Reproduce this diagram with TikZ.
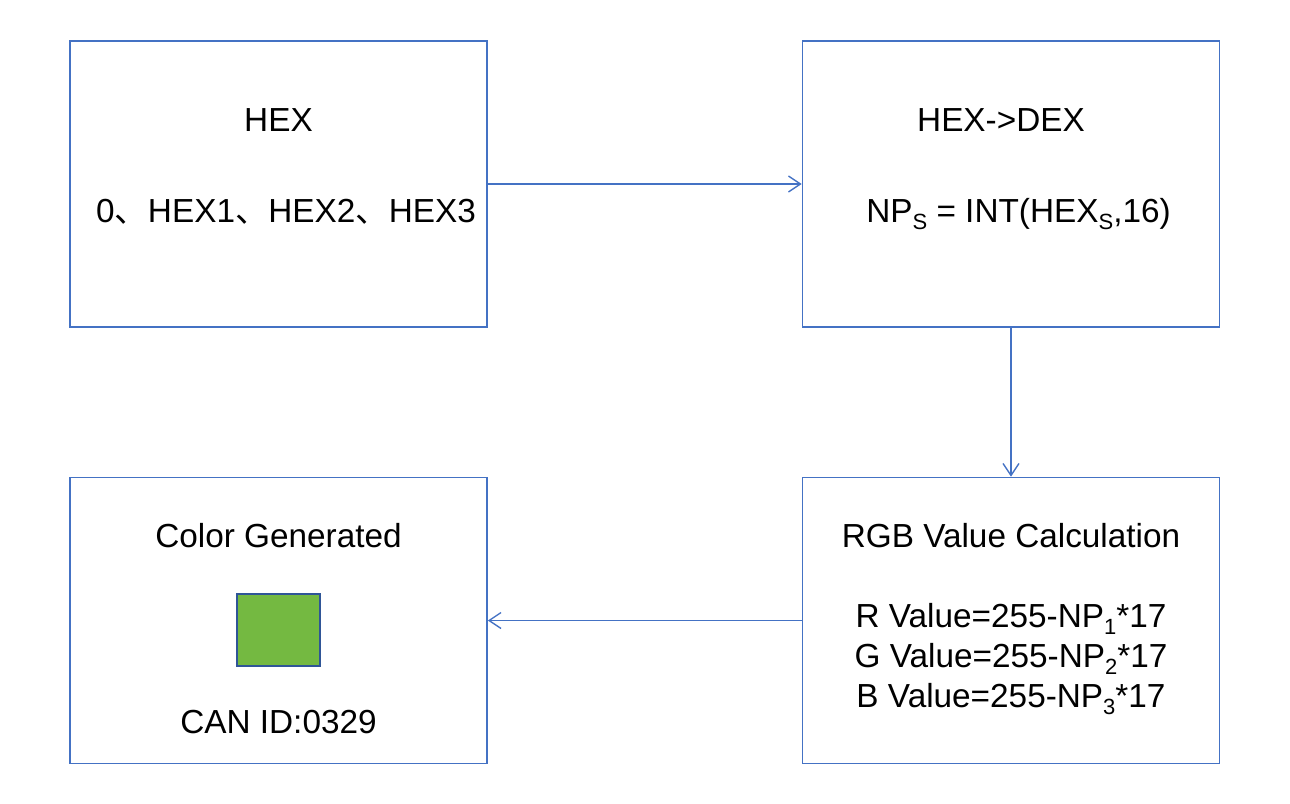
\documentclass[tikz,border=0pt]{standalone}
\usepackage{fontspec}
\setmainfont{Liberation Sans}
\newfontfamily\cjk{Noto Sans CJK SC}
\usetikzlibrary{arrows.meta}
\definecolor{boxblue}{HTML}{4472C4}
\definecolor{swatchgreen}{HTML}{74B941}
\definecolor{swatchedge}{HTML}{2F5597}
\newcommand{\lowsub}[1]{\raisebox{-5.5pt}{\fontsize{16.5}{16.5}\selectfont #1}}

\begin{document}
\begin{tikzpicture}[
    x=0.75pt, y=-0.75pt,
    >={Straight Barb[length=9pt, width=12pt]},
    font=\fontsize{25}{30}\selectfont,
    stagebox/.style={draw=boxblue, line width=1.3pt, inner sep=0pt,
                     minimum width=312.75pt, minimum height=214.5pt},
    flowarrow/.style={->, draw=boxblue, line width=1pt},
    txt/.style={anchor=base, inner sep=0pt},
    swatch/.style={draw=swatchedge, line width=1.3pt, fill=swatchgreen,
                   minimum width=62.25pt, minimum height=54pt, inner sep=0pt},
]

\useasboundingbox (0,0) rectangle (1290,804);

% ── the four stages ──
\node[stagebox] (hexbox)   at (278.5, 184)   {};
\node[stagebox] (dexbox)   at (1011, 184)    {};
\node[stagebox] (rgbbox)   at (1011, 620.5)  {};
\node[stagebox] (colorbox) at (278.5, 620.5) {};

% ── texts ──
\node[txt] (hextitle) at (278.5, 131) {HEX};
\node[txt] (hexlist)  at (286, 222)
    {0{\cjk 、}HEX1{\cjk 、}HEX2{\cjk 、}HEX3};

\node[txt] (dextitle) at (1001, 131) {HEX->DEX};
\node[txt] (dexrule)  at (1018.5, 222)
    {NP\lowsub{S} = INT(HEX\lowsub{S},16)};

\node[txt] (rgbtitle) at (1011, 547) {RGB Value Calculation};
\foreach \c/\n in {R/1,G/2,B/3} {
    \node[txt] (rgb\c) at (1011, 587+40*\n) {\c\ Value=255-NP\lowsub{\n}*17};
}

\node[txt] (colortitle) at (278.5, 547) {Color Generated};
\node[swatch] (sample) at (278.5, 630) {};
\node[txt] (canid) at (278.5, 733) {CAN ID:0329};

% ── connectors ──
\draw[flowarrow] (hexbox.east) -- (dexbox.west);
\draw[flowarrow] (dexbox.south) -- (rgbbox.north);
\draw[flowarrow] (rgbbox.west) -- (colorbox.east);

\end{tikzpicture}
\end{document}
